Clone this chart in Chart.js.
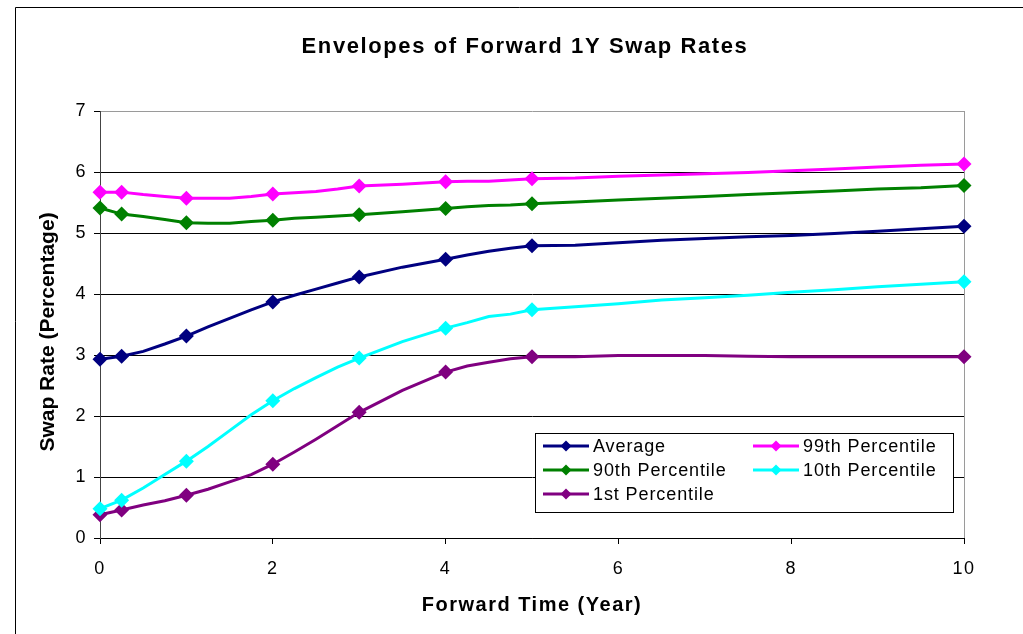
<!DOCTYPE html>
<html>
<head>
<meta charset="utf-8">
<script src="https://cdn.jsdelivr.net/npm/chart.js@4/dist/chart.umd.min.js"></script>
<style>
html,body{margin:0;padding:0;background:#fff;}
canvas{display:block;}
</style>
</head>
<body>
<canvas id="c" width="1023" height="634"></canvas>
<script>
const chartTitle = "Envelopes of Forward 1Y Swap Rates";
const xTitle = "Forward Time (Year)";
const yTitle = "Swap Rate (Percentage)";

const times = [0,0.25,0.5,0.75,1,1.25,1.5,1.75,2,2.25,2.5,2.75,3,3.5,4,4.25,4.5,4.75,5,5.5,6,6.5,7,7.5,8,8.5,9,9.5,10];
const markerTimes = [0,0.25,1,2,3,4,5,10];

const seriesNames = ["Average","99th Percentile","90th Percentile","10th Percentile","1st Percentile"];
const seriesColors = ["#000080","#FF00FF","#008000","#00FFFF","#800080"];

const average = [2.93,2.98,3.06,3.18,3.31,3.46,3.60,3.74,3.87,3.98,4.08,4.18,4.28,4.44,4.57,4.64,4.70,4.75,4.79,4.80,4.84,4.88,4.91,4.94,4.96,4.99,5.03,5.07,5.11];
const p99 = [5.67,5.67,5.63,5.60,5.57,5.57,5.57,5.60,5.64,5.66,5.68,5.72,5.77,5.80,5.84,5.85,5.85,5.87,5.89,5.90,5.93,5.95,5.97,5.99,6.02,6.05,6.08,6.11,6.13];
const p90 = [5.41,5.31,5.27,5.22,5.17,5.16,5.16,5.19,5.21,5.24,5.26,5.28,5.30,5.35,5.40,5.43,5.45,5.46,5.48,5.51,5.54,5.57,5.60,5.63,5.66,5.69,5.72,5.74,5.78];
const p10 = [0.48,0.62,0.82,1.04,1.26,1.50,1.76,2.02,2.25,2.45,2.63,2.80,2.95,3.22,3.44,3.53,3.63,3.67,3.74,3.79,3.84,3.90,3.94,3.98,4.03,4.07,4.12,4.16,4.20];
const p1 = [0.38,0.46,0.54,0.61,0.70,0.80,0.92,1.04,1.21,1.41,1.62,1.84,2.06,2.42,2.72,2.82,2.88,2.94,2.97,2.97,2.99,2.99,2.99,2.98,2.97,2.97,2.97,2.97,2.97];

const seriesValues = [average,p99,p90,p10,p1];

const yTicks = [0,1,2,3,4,5,6,7];
const xTicks = [0,2,4,6,8,10];

const FONT = "'Liberation Sans', Arial, sans-serif";

const datasets = seriesNames.map((name,i)=>({
  label: name,
  data: times.map((t,j)=>({x:t,y:seriesValues[i][j]})),
  borderColor: seriesColors[i],
  backgroundColor: seriesColors[i],
  borderWidth: 3,
  pointStyle: 'rectRot',
  pointRadius: times.map(t=>markerTimes.includes(t)?7.5:0),
  pointHoverRadius: 0,
  pointBorderWidth: 0,
  tension: 0,
  clip: false,
  fill: false
}));

const framePlugin = {
  id: 'frame',
  beforeDraw(chart){
    const c = chart.ctx;
    c.fillStyle = '#fff';
    c.fillRect(0,0,chart.width,chart.height);
    c.letterSpacing = '1.5px';
    c.save();
    c.strokeStyle = '#000';
    c.lineWidth = 1;
    c.beginPath();
    c.moveTo(15.5, 700);
    c.lineTo(15.5, 7.5);
    c.lineTo(1030, 7.5);
    c.stroke();
    c.restore();
  },
  beforeDatasetsDraw(chart){
    const a = chart.chartArea, c = chart.ctx;
    c.save();
    c.strokeStyle = '#9a9a9a';
    c.lineWidth = 1;
    c.beginPath();
    c.moveTo(Math.round(a.right)+0.5, a.top);
    c.lineTo(Math.round(a.right)+0.5, a.bottom);
    c.stroke();
    c.restore();
  },
  afterDraw(chart){
    const c = chart.ctx, a = chart.chartArea;
    c.save();
    c.fillStyle = '#000';
    c.textAlign = 'center';
    c.textBaseline = 'middle';
    c.letterSpacing = '1.6px';
    c.font = "bold 22px " + FONT;
    c.fillText(chartTitle, 525, 47);
    c.letterSpacing = '1.5px';
    c.font = "bold 20px " + FONT;
    c.fillText(xTitle, 532, 605);
    c.save();
    c.letterSpacing = '0px';
    c.font = "bold 21px " + FONT;
    c.translate(48, 332);
    c.rotate(-Math.PI/2);
    c.fillText(yTitle, 0, 0);
    c.restore();

    // legend
    const bx = 535.5, by = 433.5, bw = 418, bh = 79;
    c.fillStyle = '#fff';
    c.fillRect(bx, by, bw, bh);
    c.strokeStyle = '#000';
    c.lineWidth = 1;
    c.strokeRect(bx, by, bw, bh);
    c.font = "18px " + FONT;
    c.letterSpacing = '0.9px';
    c.textAlign = 'left';
    const colX = [543, 753];
    const rowY = [446, 470, 494];
    chart.data.datasets.forEach((ds,i)=>{
      const col = i % 2, row = Math.floor(i/2);
      const lx = colX[col], ly = rowY[row];
      c.strokeStyle = ds.borderColor;
      c.lineWidth = 3;
      c.beginPath();
      c.moveTo(lx, ly);
      c.lineTo(lx+46, ly);
      c.stroke();
      c.fillStyle = ds.borderColor;
      c.beginPath();
      const r = 5.5;
      c.moveTo(lx+23, ly-r); c.lineTo(lx+23+r, ly); c.lineTo(lx+23, ly+r); c.lineTo(lx+23-r, ly); c.closePath();
      c.fill();
      c.fillStyle = '#000';
      c.fillText(ds.label, lx+50, ly+1);
    });
    c.restore();
  }
};

new Chart(document.getElementById('c'), {
  type: 'line',
  data: { datasets },
  plugins: [framePlugin],
  options: {
    responsive: false,
    animation: false,
    devicePixelRatio: 1,
    layout: { padding: { left: 0, right: 59, top: 111, bottom: 0 } },
    plugins: { legend: { display: false }, title: { display: false }, tooltip: { enabled: false } },
    scales: {
      x: {
        type: 'linear',
        min: 0, max: 10,
        afterFit(s){ s.height = 96; },
        afterBuildTicks(s){ s.ticks = xTicks.map(v=>({value:v})); },
        ticks: { color:'#000', font:{ family: FONT, size: 18 }, padding: 14, maxRotation:0 },
        grid: { drawOnChartArea: false, drawTicks: true, tickLength: 6, color: '#000' },
        border: { color: '#000', width: 1 }
      },
      y: {
        min: 0, max: 7,
        afterFit(s){ s.width = 100; },
        afterBuildTicks(s){ s.ticks = yTicks.map(v=>({value:v})); },
        ticks: { color:'#000', font:{ family: FONT, size: 18 }, padding: 7 },
        grid: {
          color: (ctx)=> ctx.tick && ctx.tick.value === 7 ? '#9a9a9a' : '#000',
          tickColor: '#000',
          tickLength: 6,
          lineWidth: 1
        },
        border: { color: '#444', width: 1 }
      }
    }
  }
});
</script>
</body>
</html>
